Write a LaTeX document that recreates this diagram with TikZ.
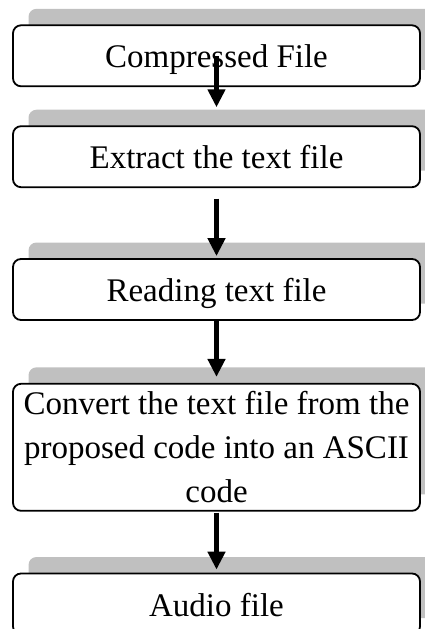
\documentclass[tikz,border=0pt]{standalone}
\usepackage{fontspec}
\setmainfont{Liberation Serif}
\usetikzlibrary{shadows,arrows.meta}
\definecolor{shadowgray}{HTML}{C0C0C0}
\begin{document}
\begin{tikzpicture}[x=1pt,y=-1pt,
  box/.style={draw, line width=1.8pt, rounded corners=8pt, fill=white,
    minimum width=407pt, minimum height=61pt, inner sep=0pt,
    font=\fontsize{33}{44}\selectfont,
    drop shadow={shadow xshift=15.5pt, shadow yshift=16.5pt, fill=shadowgray, opacity=1}},
  single/.style={text height=24pt, text depth=0pt},
  flow/.style={line width=5pt, -{Triangle[width=17pt,length=18pt]}}]
\clip (0,0) rectangle (425,629);
\node[box, single] (b1) at (216.5,55.8) {Compressed File};
\node[box, single] (b2) at (216.5,156.7) {Extract the text file};
\node[box, single] (b3) at (216.5,289.5) {Reading text file};
\node[box, minimum height=127pt, align=center] (b4) at (216.5,447.3)
  {Convert the text file from the\\proposed code into an ASCII\\code};
\node[box, single] (b5) at (216.5,604) {Audio file};
\draw[flow, shorten >=18pt] (b1.center) -- (b2.north);
\draw[flow, shorten <=10.5pt, shorten >=2pt] (b2.south) -- (b3.north);
\draw[flow, shorten >=6pt] (b3.south) -- (b4.north);
\draw[flow, shorten <=1pt, shorten >=3pt] (b4.south) -- (b5.north);
\end{tikzpicture}
\end{document}
